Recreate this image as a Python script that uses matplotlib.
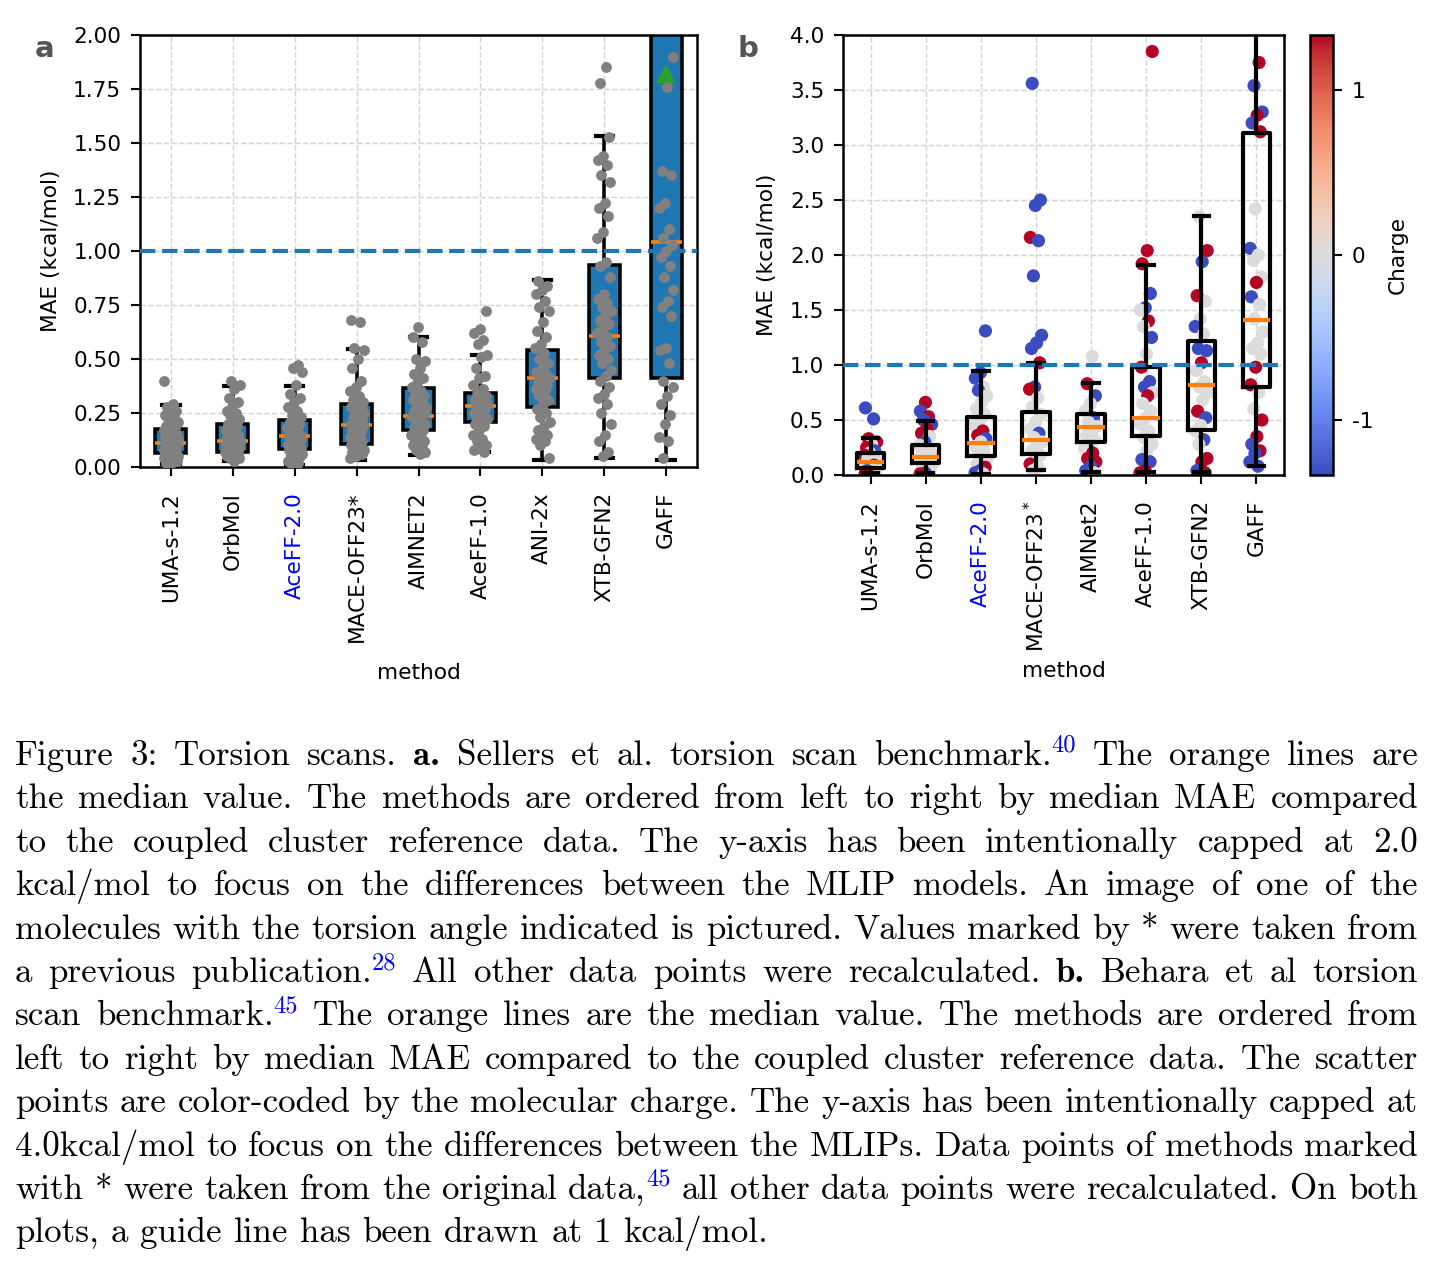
import re
import numpy as np
import matplotlib
matplotlib.use("Agg")
import matplotlib.pyplot as plt
from matplotlib.colors import Normalize
from matplotlib.cm import ScalarMappable

# ---------------- panel a data (Sellers et al.) ----------------
methods_a = ["UMA-s-1.2", "OrbMol", "AceFF-2.0", "MACE-OFF23*", "AIMNET2",
             "AceFF-1.0", "ANI-2x", "XTB-GFN2", "GAFF"]
median_a = [0.110, 0.119, 0.142, 0.193, 0.235, 0.281, 0.414, 0.607, 1.042]
q1_a     = [0.066, 0.070, 0.082, 0.108, 0.171, 0.207, 0.278, 0.414, 0.414]
q3_a     = [0.178, 0.200, 0.216, 0.293, 0.364, 0.343, 0.540, 0.936, 2.600]
whislo_a = [0.015, 0.030, 0.010, 0.034, 0.056, 0.070, 0.034, 0.043, 0.031]
whishi_a = [0.286, 0.375, 0.375, 0.548, 0.602, 0.520, 0.865, 1.532, 4.500]
mean_a   = [0.120, 0.140, 0.150, 0.210, 0.280, 0.270, 0.386, 0.680, 1.820]

pts_uma_a = [0.40, 0.29, 0.28, 0.26, 0.25, 0.24, 0.23, 0.22, 0.21, 0.20, 0.19, 0.18, 0.18,
             0.17, 0.16, 0.16, 0.15, 0.15, 0.14, 0.14, 0.13, 0.13, 0.12, 0.12, 0.11, 0.11,
             0.11, 0.10, 0.10, 0.10, 0.09, 0.09, 0.09, 0.08, 0.08, 0.08, 0.07, 0.07, 0.07,
             0.06, 0.06, 0.06, 0.05, 0.05, 0.05, 0.04, 0.04, 0.04, 0.03, 0.03, 0.03, 0.02, 0.02]
pts_orb_a = [0.40, 0.38, 0.36, 0.32, 0.30, 0.28, 0.26, 0.25, 0.24, 0.22, 0.21, 0.20, 0.19,
             0.18, 0.17, 0.16, 0.16, 0.15, 0.14, 0.14, 0.13, 0.13, 0.12, 0.12, 0.12, 0.11,
             0.11, 0.10, 0.10, 0.09, 0.09, 0.09, 0.08, 0.08, 0.07, 0.07, 0.07, 0.06, 0.06,
             0.05, 0.05, 0.05, 0.04, 0.04, 0.03]
pts_ace2_a = [0.47, 0.46, 0.44, 0.38, 0.34, 0.32, 0.30, 0.28, 0.26, 0.24, 0.23, 0.22, 0.21,
              0.20, 0.19, 0.18, 0.17, 0.16, 0.15, 0.15, 0.14, 0.14, 0.13, 0.13, 0.12, 0.12,
              0.11, 0.11, 0.10, 0.10, 0.09, 0.09, 0.08, 0.08, 0.07, 0.07, 0.06, 0.06, 0.05,
              0.05, 0.04, 0.03, 0.02, 0.01]
pts_mace_a = [0.68, 0.67, 0.55, 0.54, 0.50, 0.46, 0.40, 0.37, 0.35, 0.33, 0.31, 0.30, 0.29,
              0.28, 0.27, 0.26, 0.25, 0.24, 0.23, 0.22, 0.21, 0.20, 0.20, 0.19, 0.19, 0.18,
              0.17, 0.16, 0.15, 0.14, 0.13, 0.12, 0.12, 0.11, 0.10, 0.10, 0.09, 0.08, 0.08,
              0.07, 0.06, 0.05, 0.04]
pts_aim_a = [0.65, 0.60, 0.58, 0.50, 0.49, 0.46, 0.43, 0.41, 0.39, 0.37, 0.35, 0.34, 0.33,
             0.32, 0.31, 0.30, 0.29, 0.28, 0.27, 0.26, 0.25, 0.24, 0.23, 0.22, 0.21, 0.20,
             0.19, 0.18, 0.17, 0.16, 0.15, 0.14, 0.13, 0.12, 0.11, 0.10, 0.09, 0.08, 0.07, 0.06]
pts_ace1_a = [0.72, 0.64, 0.62, 0.59, 0.57, 0.52, 0.51, 0.46, 0.42, 0.41, 0.38, 0.36, 0.34,
              0.33, 0.32, 0.31, 0.30, 0.30, 0.29, 0.28, 0.28, 0.27, 0.26, 0.25, 0.24, 0.23,
              0.22, 0.21, 0.20, 0.19, 0.17, 0.15, 0.13, 0.12, 0.10, 0.09, 0.08, 0.07]
pts_ani_a = [0.86, 0.84, 0.82, 0.80, 0.77, 0.74, 0.72, 0.67, 0.63, 0.60, 0.57, 0.55, 0.53,
             0.50, 0.48, 0.46, 0.44, 0.43, 0.42, 0.41, 0.40, 0.39, 0.38, 0.37, 0.36, 0.35,
             0.33, 0.31, 0.29, 0.27, 0.25, 0.23, 0.21, 0.19, 0.17, 0.15, 0.14, 0.13, 0.12,
             0.10, 0.04]
pts_xtb_a = [1.85, 1.78, 1.53, 1.44, 1.42, 1.40, 1.35, 1.32, 1.22, 1.20, 1.16, 1.09, 1.06,
             0.95, 0.93, 0.88, 0.80, 0.78, 0.76, 0.74, 0.72, 0.70, 0.68, 0.66, 0.64, 0.62,
             0.60, 0.58, 0.56, 0.54, 0.52, 0.50, 0.48, 0.45, 0.42, 0.40, 0.37, 0.34, 0.32,
             0.29, 0.25, 0.20, 0.15, 0.12, 0.07, 0.05]
pts_gaff_a = [1.90, 1.76, 1.37, 1.35, 1.22, 1.20, 1.10, 1.06, 1.03, 1.00, 0.97, 0.93, 0.88,
              0.82, 0.77, 0.74, 0.70, 0.55, 0.54, 0.48, 0.40, 0.37, 0.33, 0.29, 0.24, 0.20,
              0.14, 0.12, 0.04]
points_a = [pts_uma_a, pts_orb_a, pts_ace2_a, pts_mace_a, pts_aim_a, pts_ace1_a,
            pts_ani_a, pts_xtb_a, pts_gaff_a]

# ---------------- panel b data (Behara et al.) ----------------
methods_b = ["UMA-s-1.2", "OrbMol", "AceFF-2.0", "MACE-OFF23$^*$", "AIMNet2",
             "AceFF-1.0", "XTB-GFN2", "GAFF"]
median_b = [0.121, 0.164, 0.288, 0.315, 0.440, 0.515, 0.815, 1.409]
q1_b     = [0.061, 0.112, 0.176, 0.190, 0.303, 0.355, 0.409, 0.797]
q3_b     = [0.197, 0.273, 0.524, 0.570, 0.555, 0.985, 1.221, 3.110]
whislo_b = [0.015, 0.015, 0.010, 0.045, 0.030, 0.030, 0.024, 0.082]
whishi_b = [0.333, 0.490, 0.948, 1.015, 0.833, 1.910, 2.357, 4.600]

vals_uma_b = [0.61, 0.51, 0.33, 0.30, 0.28, 0.25, 0.22, 0.20, 0.18, 0.16, 0.15, 0.13, 0.12,
              0.10, 0.09, 0.08, 0.07, 0.05, 0.04, 0.03, 0.02, 0.01]
chg_uma_b  = [-1, -1, 1, 1, 0, 1, -1, 0, 1, 0, 0, 0, 0, 0, 1, 0, 0, 0, -1, 0, 0, 1]
vals_orb_b = [0.66, 0.58, 0.53, 0.50, 0.46, 0.42, 0.38, 0.35, 0.30, 0.27, 0.24, 0.22, 0.20,
              0.18, 0.16, 0.14, 0.12, 0.10, 0.08, 0.06, 0.04, 0.02, 0.01]
chg_orb_b  = [1, -1, 1, -1, -1, 1, 1, 0, -1, 0, -1, 0, 0, 0, 0, 0, 0, 0, 0, 0, 0, -1, 1]
vals_ace2_b = [1.31, 0.93, 0.88, 0.80, 0.77, 0.72, 0.66, 0.60, 0.55, 0.50, 0.45, 0.40, 0.36,
               0.33, 0.30, 0.26, 0.22, 0.18, 0.15, 0.12, 0.10, 0.07, 0.04, 0.02, 0.01]
chg_ace2_b  = [-1, -1, -1, 0, -1, 0, 0, 0, 0, 0, 0, 1, 1, -1, 0, 0, 0, 0, 0, 0, 0, 1, -1, -1, 0]
vals_mace_b = [3.56, 2.50, 2.45, 2.16, 2.13, 1.81, 1.27, 1.20, 1.15, 1.02, 0.80, 0.78, 0.70,
               0.62, 0.55, 0.48, 0.42, 0.38, 0.34, 0.30, 0.26, 0.22, 0.18, 0.14, 0.10, 0.07, 0.04]
chg_mace_b  = [-1, -1, -1, 1, -1, -1, -1, -1, -1, 1, -1, 1, 0, 0, 0, 0, 0, -1, 0, 0, 0, 0, 0,
               0, 1, 0, 0]
vals_aim_b = [1.08, 0.83, 0.72, 0.65, 0.58, 0.52, 0.48, 0.44, 0.40, 0.36, 0.32, 0.28, 0.24,
              0.20, 0.15, 0.12, 0.08, 0.04, 0.02]
chg_aim_b  = [0, 1, -1, 0, 0, -1, 0, 0, 0, 0, 0, 0, 0, 1, 1, 1, -1, -1, 0]
vals_ace1_b = [3.85, 2.04, 1.92, 1.65, 1.52, 1.50, 1.40, 1.35, 1.25, 1.10, 0.98, 0.85, 0.80,
               0.75, 0.72, 0.65, 0.58, 0.52, 0.46, 0.40, 0.34, 0.28, 0.22, 0.14, 0.12, 0.04, 0.02]
chg_ace1_b  = [1, 1, 1, -1, -1, 0, 1, 0, -1, 0, 1, -1, -1, 0, 1, 0, 0, 0, 0, 0, 0, 0, 0, -1,
               -1, 1, 1]
vals_xtb_b = [2.35, 2.04, 1.94, 1.63, 1.58, 1.42, 1.35, 1.28, 1.15, 1.13, 1.02, 0.95, 0.85,
              0.80, 0.75, 0.68, 0.58, 0.52, 0.45, 0.40, 0.32, 0.28, 0.15, 0.12, 0.04, 0.02]
chg_xtb_b  = [0, 1, -1, 1, 0, 0, -1, 0, -1, -1, 1, 0, 0, 0, 0, 0, 1, -1, 0, 0, -1, 0, 1, 1,
              -1, 1]
vals_gaff_b = [3.75, 3.54, 3.30, 3.27, 3.20, 3.12, 2.42, 2.06, 2.00, 1.95, 1.80, 1.75, 1.62,
               1.55, 1.42, 1.30, 1.20, 1.15, 1.10, 0.98, 0.82, 0.75, 0.60, 0.50, 0.35, 0.28,
               0.22, 0.20, 0.12, 0.08]
chg_gaff_b  = [1, -1, -1, 1, -1, 1, 0, -1, 0, 0, 0, 1, -1, 0, 0, 0, 0, 0, 0, 1, 1, 0, 0, 1,
               1, -1, 1, -1, -1, -1]
values_b = [vals_uma_b, vals_orb_b, vals_ace2_b, vals_mace_b, vals_aim_b, vals_ace1_b,
            vals_xtb_b, vals_gaff_b]
charges_b = [chg_uma_b, chg_orb_b, chg_ace2_b, chg_mace_b, chg_aim_b, chg_ace1_b,
             chg_xtb_b, chg_gaff_b]

guide_value = 1.0

caption_lines = [
    "Figure 3: Torsion scans. §a.§ Sellers et al. torsion scan benchmark.^{40} The orange lines are",
    "the median value. The methods are ordered from left to right by median MAE compared",
    "to the coupled cluster reference data. The y-axis has been intentionally capped at 2.0",
    "kcal/mol to focus on the differences between the MLIP models. An image of one of the",
    "molecules with the torsion angle indicated is pictured. Values marked by * were taken from",
    "a previous publication.^{28} All other data points were recalculated. §b.§ Behara et al torsion",
    "scan benchmark.^{45} The orange lines are the median value. The methods are ordered from",
    "left to right by median MAE compared to the coupled cluster reference data. The scatter",
    "points are color-coded by the molecular charge. The y-axis has been intentionally capped at",
    "4.0kcal/mol to focus on the differences between the MLIPs. Data points of methods marked",
    "with * were taken from the original data,^{45} all other data points were recalculated. On both",
    "plots, a guide line has been drawn at 1 kcal/mol.",
]

# ---------------- figure ----------------
W, H, DPI = 1435, 1266, 150
plt.rcParams["font.family"] = ["DejaVu Sans"]
fig = plt.figure(figsize=(W / DPI, H / DPI), dpi=DPI)

FS = 10.4
LW = 1.2


def px_axes(l, t, r, b):
    return [l / W, 1 - b / H, (r - l) / W, (b - t) / H]


def jitter(n, k, spread=0.24):
    return ((np.arange(n) * 0.618034 + 0.37 * k) % 1.0 - 0.5) * spread


def style_axes(ax):
    for s in ax.spines.values():
        s.set_linewidth(LW)
    ax.tick_params(axis="both", labelsize=FS, length=4.5, width=1.0, pad=4.5)
    ax.tick_params(axis="x", pad=7.5)
    ax.grid(True, linestyle="--", color="#d4d4d4", linewidth=0.7)
    ax.set_axisbelow(True)


# ----- panel a -----
axa = fig.add_axes(px_axes(140, 35, 697, 467))
stats_a = [dict(med=median_a[i], q1=q1_a[i], q3=q3_a[i], whislo=whislo_a[i],
                whishi=whishi_a[i], mean=mean_a[i], fliers=[]) for i in range(len(methods_a))]
axa.bxp(stats_a, positions=range(len(methods_a)), widths=0.5, patch_artist=True,
        showmeans=True, showfliers=False, capwidths=0.28,
        boxprops=dict(facecolor="#1f77b4", edgecolor="black", linewidth=1.7),
        medianprops=dict(color="#ff7f0e", linewidth=1.7),
        whiskerprops=dict(color="black", linewidth=1.7),
        capprops=dict(color="black", linewidth=2.0),
        meanprops=dict(marker="^", markerfacecolor="#2ca02c", markeredgecolor="#2ca02c",
                       markersize=8),
        zorder=2)
axa.axhline(guide_value, color="#1f77b4", linestyle="--", linewidth=2.0, zorder=2.6)
for i, vals in enumerate(points_a):
    v = np.array(vals)
    axa.scatter(i + jitter(len(v), i), v, s=27, color="#808080", linewidths=0, zorder=3)
axa.set_xlim(-0.5, len(methods_a) - 0.5)
axa.set_ylim(0, 2.0)
axa.set_yticks(np.arange(0, 2.01, 0.25))
axa.set_yticklabels([f"{t:.2f}" for t in np.arange(0, 2.01, 0.25)])
axa.set_xticks(range(len(methods_a)))
axa.set_xticklabels(methods_a, rotation=90)
style_axes(axa)
axa.set_ylabel("MAE (kcal/mol)", fontsize=FS, labelpad=6)
axa.set_xlabel("method", fontsize=FS, labelpad=10)
for lbl in axa.get_xticklabels():
    if lbl.get_text() == "AceFF-2.0":
        lbl.set_color("blue")

# ----- panel b -----
axb = fig.add_axes(px_axes(843, 35, 1284, 475))
cmap = plt.get_cmap("coolwarm")
point_norm = Normalize(vmin=-1.0, vmax=1.0)
bar_norm = Normalize(vmin=-1.333, vmax=1.333)
for i, (vals, chg) in enumerate(zip(values_b, charges_b)):
    v = np.array(vals)
    axb.scatter(i + jitter(len(v), i + 3), v, s=40, c=chg, cmap=cmap, norm=point_norm,
                linewidths=0, zorder=2)
stats_b = [dict(med=median_b[i], q1=q1_b[i], q3=q3_b[i], whislo=whislo_b[i],
                whishi=whishi_b[i], fliers=[]) for i in range(len(methods_b))]
axb.bxp(stats_b, positions=range(len(methods_b)), widths=0.5, patch_artist=False,
        showmeans=False, showfliers=False, capwidths=0.28,
        boxprops=dict(color="black", linewidth=2.0),
        medianprops=dict(color="#ff7f0e", linewidth=2.0),
        whiskerprops=dict(color="black", linewidth=2.0),
        capprops=dict(color="black", linewidth=2.0),
        zorder=3)
axb.axhline(guide_value, color="#1f77b4", linestyle="--", linewidth=2.0, zorder=4)
axb.set_xlim(-0.5, len(methods_b) - 0.5)
axb.set_ylim(0, 4.0)
axb.set_yticks(np.arange(0, 4.01, 0.5))
axb.set_yticklabels([f"{t:.1f}" for t in np.arange(0, 4.01, 0.5)])
axb.set_xticks(range(len(methods_b)))
axb.set_xticklabels(methods_b, rotation=90)
style_axes(axb)
axb.set_ylabel("MAE (kcal/mol)", fontsize=FS, labelpad=6)
axb.set_xlabel("method", fontsize=FS, labelpad=4.5)
for lbl in axb.get_xticklabels():
    if lbl.get_text() == "AceFF-2.0":
        lbl.set_color("blue")

cax = fig.add_axes(px_axes(1310, 35, 1333, 475))
cb = fig.colorbar(ScalarMappable(norm=bar_norm, cmap=cmap), cax=cax)
cb.set_ticks([-1, 0, 1])
cb.set_ticklabels(["-1", "0", "1"])
cb.outline.set_linewidth(LW)
cax.tick_params(labelsize=FS, length=4.5, width=1.0, pad=4.5)
cb.set_label("Charge", fontsize=FS, labelpad=7)

# panel letters
fig.text(35 / W, 1 - 57 / H, "a", fontsize=14, fontweight="bold", color="#555555",
         ha="left", va="baseline")
fig.text(737 / W, 1 - 57 / H, "b", fontsize=14, fontweight="bold", color="#555555",
         ha="left", va="baseline")

# ---------------- caption (justified) ----------------
renderer = fig.canvas.get_renderer()
CFS = 16.8
LEFT, RIGHT = 15, 1418
BASE0, STEP = 765, 43.4
for li, line in enumerate(caption_lines):
    y = BASE0 + li * STEP
    groups = []
    for w in line.split(" "):
        toks = []
        for p in re.split(r"(§[^§]+§|\^\{[^}]+\})", w):
            if not p:
                continue
            if p.startswith("§"):
                toks.append((p[1:-1], "b"))
            elif p.startswith("^{"):
                toks.append((p[2:-1], "s"))
            else:
                toks.append((p, "r"))
        groups.append(toks)
    gobjs, widths = [], []
    for toks in groups:
        objs, wsum = [], 0.0
        for txt, st in toks:
            if st == "b":
                kw = dict(family=["cmb10", "DejaVu Serif"], fontsize=CFS, color="black")
            elif st == "s":
                kw = dict(family=["cmr10", "DejaVu Serif"], fontsize=CFS * 0.7, color="blue")
            else:
                kw = dict(family=["cmr10", "DejaVu Serif"], fontsize=CFS, color="black")
            t = fig.text(0, 0, txt, ha="left", va="baseline", **kw)
            wpx = t.get_window_extent(renderer).width
            objs.append((t, st, wpx))
            wsum += wpx
        gobjs.append(objs)
        widths.append(wsum)
    n = len(groups)
    if li < len(caption_lines) - 1 and n > 1:
        gap = (RIGHT - LEFT - sum(widths)) / (n - 1)
    else:
        gap = CFS * DPI / 72 * 0.34
    x = LEFT
    for objs, wg in zip(gobjs, widths):
        xx = x
        for t, st, wpx in objs:
            yy = y - (13 if st == "s" else 0)
            t.set_position((xx / W, 1 - yy / H))
            xx += wpx
        x += wg + gap

fig.savefig("out.png", dpi=DPI)
